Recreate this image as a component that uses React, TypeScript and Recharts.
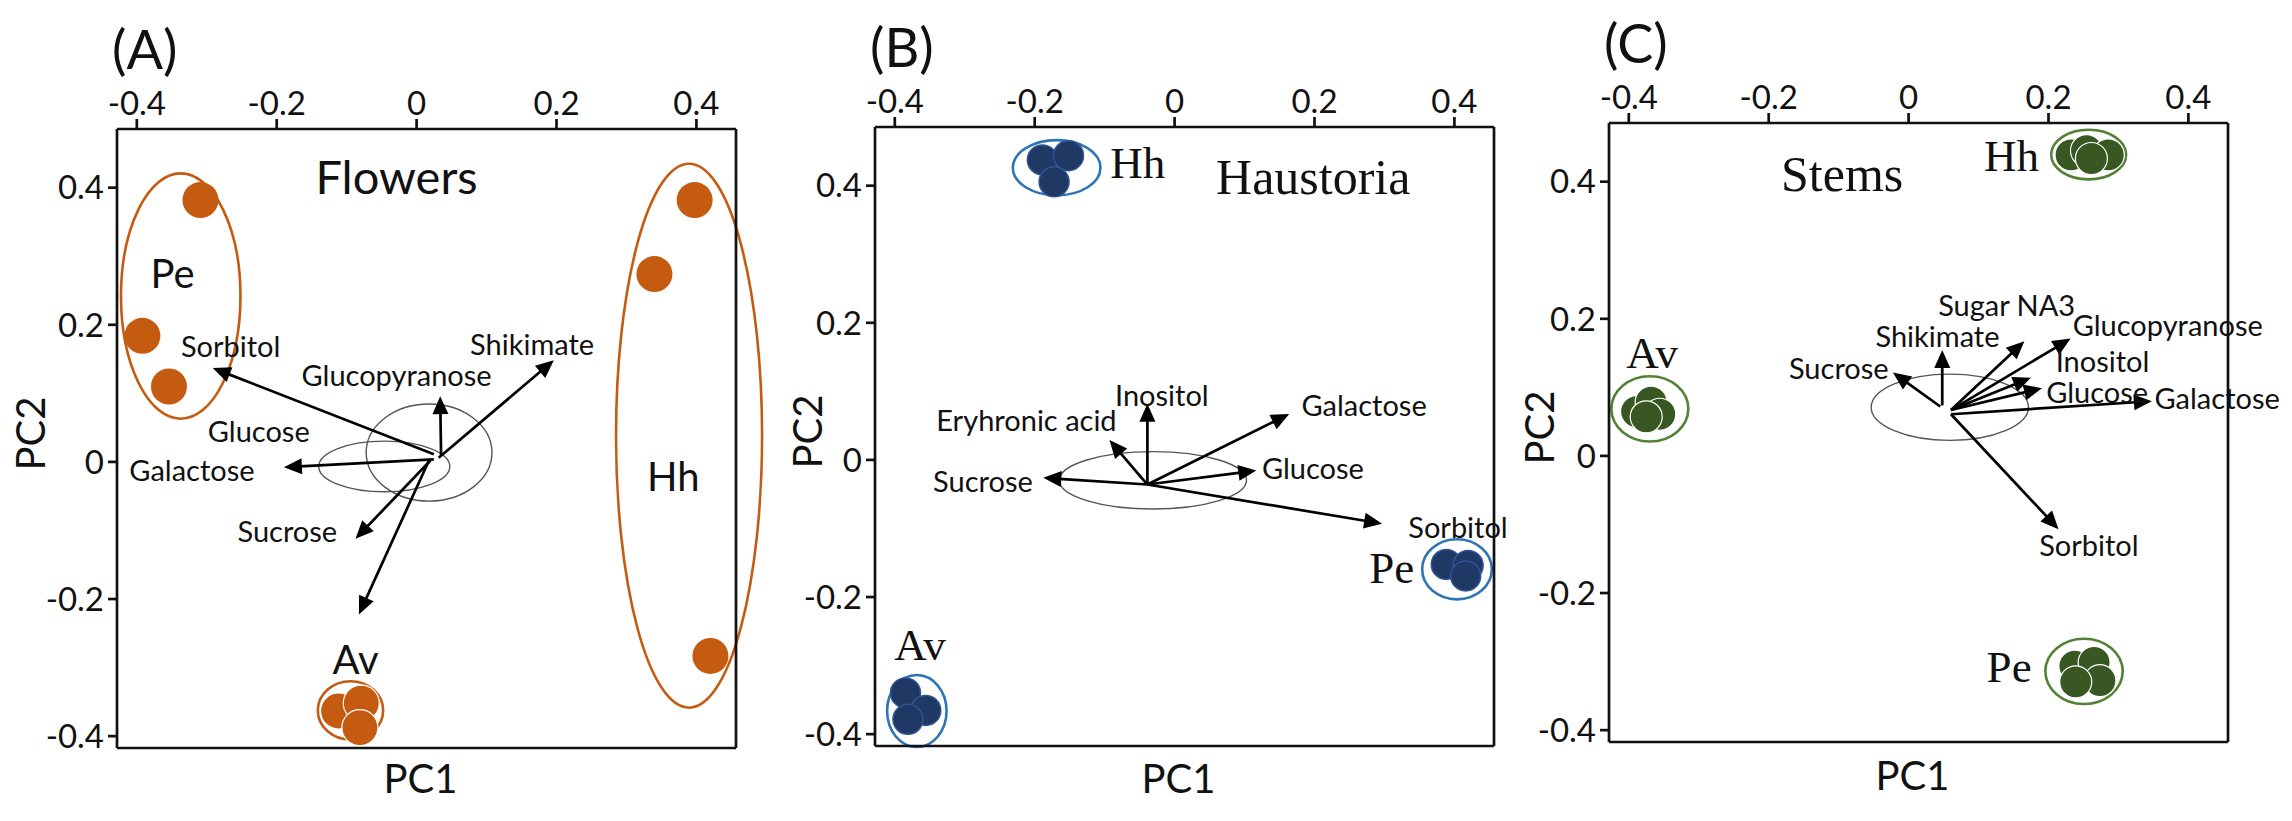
import React from 'react';
import { ScatterChart, Scatter, XAxis, YAxis, ReferenceArea, ReferenceLine } from 'recharts';

// ---------- shared axes ----------
const X_DOMAIN: [number, number] = [-0.4283, 0.4566];
const Y_DOMAIN: [number, number] = [-0.4173, 0.4856];
const TICK_VALUES = [-0.4, -0.2, 0, 0.2, 0.4];
const TICK_LABELS = ['-0.4', '-0.2', '0', '0.2', '0.4'];
const PANEL_LETTERS = ['(A)', '(B)', '(C)'];
const PANEL_TITLES = ['Flowers', 'Haustoria', 'Stems'];

type Pt = { x: number; y: number };
type Lbl = { x: number; y: number; text: string };
type Ell = { cx: number; cy: number; rx: number; ry: number };
type Arr = { x0: number; y0: number; x1: number; y1: number };

// ---------- Panel A: Flowers ----------
const flowersPe: Pt[] = [{ x: -0.309, y: 0.382 }, { x: -0.392, y: 0.184 }, { x: -0.354, y: 0.11 }];
const flowersHh: Pt[] = [{ x: 0.3975, y: 0.382 }, { x: 0.34, y: 0.274 }, { x: 0.42, y: -0.283 }];
const flowersAv: Pt[] = [{ x: -0.1116, y: -0.3633 }, { x: -0.0791, y: -0.3519 }, { x: -0.0811, y: -0.3876 }];
const flowersGroupEllipses: Ell[] = [
  { cx: -0.3372, cy: 0.2419, rx: 0.0854, ry: 0.1789 },
  { cx: 0.3895, cy: 0.0382, rx: 0.1044, ry: 0.3967 },
  { cx: -0.0945, cy: -0.3625, rx: 0.0467, ry: 0.0426 },
];
const flowersCenterEllipses: Ell[] = [
  { cx: 0.0178, cy: 0.0136, rx: 0.0899, ry: 0.0708 },
  { cx: -0.0462, cy: -0.0066, rx: 0.0937, ry: 0.0369 },
];
const flowersArrows: Arr[] = [
  { x0: 0.0246, y0: 0.0112, x1: -0.2914, y1: 0.1369 },
  { x0: 0.0316, y0: 0.006, x1: 0.1962, y1: 0.1483 },
  { x0: 0.035, y0: 0.0098, x1: 0.0337, y1: 0.0958 },
  { x0: 0.0246, y0: 0.0037, x1: -0.1897, y1: -0.0078 },
  { x0: 0.0198, y0: 0.0021, x1: -0.0873, y1: -0.1121 },
  { x0: 0.0177, y0: 0.0021, x1: -0.0825, y1: -0.2224 },
];
const flowersVarLabels: Lbl[] = [
  { x: -0.2658, y: 0.1696, text: 'Sorbitol' },
  { x: 0.1651, y: 0.1734, text: 'Shikimate' },
  { x: -0.0286, y: 0.1277, text: 'Glucopyranose' },
  { x: -0.2257, y: 0.0463, text: 'Glucose' },
  { x: -0.3211, y: -0.0107, text: 'Galactose' },
  { x: -0.1848, y: -0.1005, text: 'Sucrose' },
];
const flowersGroupLabels: Lbl[] = [
  { x: -0.3488, y: 0.2762, text: 'Pe' },
  { x: 0.367, y: -0.0207, text: 'Hh' },
  { x: -0.0873, y: -0.2873, text: 'Av' },
];
const flowersTitle: Lbl[] = [{ x: -0.0286, y: 0.4169, text: PANEL_TITLES[0] }];

// ---------- Panel B: Haustoria ----------
const haustHh: Pt[] = [{ x: -0.189, y: 0.4376 }, { x: -0.1517, y: 0.4437 }, { x: -0.1723, y: 0.4056 }];
const haustPe: Pt[] = [{ x: 0.3884, y: -0.1525 }, { x: 0.4196, y: -0.154 }, { x: 0.4161, y: -0.1692 }];
const haustAv: Pt[] = [{ x: -0.3847, y: -0.3399 }, { x: -0.3557, y: -0.3655 }, { x: -0.3812, y: -0.3784 }];
const haustGroupEllipses: Ell[] = [
  { cx: -0.1686, cy: 0.4262, rx: 0.0626, ry: 0.0403 },
  { cx: 0.4037, cy: -0.1596, rx: 0.0498, ry: 0.0438 },
  { cx: -0.3685, cy: -0.3663, rx: 0.0425, ry: 0.0525 },
];
const haustCenterEllipses: Ell[] = [{ cx: -0.031, cy: -0.0298, rx: 0.1338, ry: 0.0419 }];
const haustArrows: Arr[] = [
  { x0: -0.0389, y0: -0.0359, x1: -0.0389, y1: 0.082 },
  { x0: -0.0389, y0: -0.0359, x1: -0.0931, y1: 0.0289 },
  { x0: -0.0389, y0: -0.0359, x1: 0.1638, y1: 0.0669 },
  { x0: -0.0389, y0: -0.0359, x1: 0.1168, y1: -0.0155 },
  { x0: -0.0389, y0: -0.0359, x1: -0.1877, y1: -0.026 },
  { x0: -0.0389, y0: -0.0359, x1: 0.2966, y1: -0.093 },
];
const haustVarLabels: Lbl[] = [
  { x: -0.0182, y: 0.0951, text: 'Inositol' },
  { x: -0.2118, y: 0.0592, text: 'Eryhronic acid' },
  { x: 0.2709, y: 0.0806, text: 'Galactose' },
  { x: 0.1977, y: -0.0116, text: 'Glucose' },
  { x: -0.274, y: -0.0306, text: 'Sucrose' },
  { x: 0.4051, y: -0.0969, text: 'Sorbitol' },
];
const haustGroupLabels: Lbl[] = [
  { x: -0.0528, y: 0.4336, text: 'Hh' },
  { x: 0.3105, y: -0.1578, text: 'Pe' },
  { x: -0.364, y: -0.2696, text: 'Av' },
];
const haustTitle: Lbl[] = [{ x: 0.1982, y: 0.4131, text: PANEL_TITLES[1] }];

// ---------- Panel C: Stems ----------
const stemsHh: Pt[] = [{ x: 0.2322, y: 0.4391 }, { x: 0.2543, y: 0.4452 }, { x: 0.2855, y: 0.4391 }, { x: 0.2613, y: 0.4338 }];
const stemsAv: Pt[] = [{ x: -0.3889, y: 0.0646 }, { x: -0.3681, y: 0.0783 }, { x: -0.3557, y: 0.0608 }, { x: -0.3751, y: 0.057 }];
const stemsPe: Pt[] = [{ x: 0.2376, y: -0.3065 }, { x: 0.2652, y: -0.3012 }, { x: 0.2735, y: -0.3278 }, { x: 0.2389, y: -0.3296 }];
const stemsGroupEllipses: Ell[] = [
  { cx: 0.2574, cy: 0.4395, rx: 0.0536, ry: 0.0362 },
  { cx: -0.3699, cy: 0.0687, rx: 0.055, ry: 0.0476 },
  { cx: 0.2508, cy: -0.3142, rx: 0.0553, ry: 0.0476 },
];
const stemsCenterEllipses: Ell[] = [{ cx: 0.0589, cy: 0.071, rx: 0.1124, ry: 0.0483 }];
const stemsArrows: Arr[] = [
  { x0: 0.0453, y0: 0.0721, x1: -0.0224, y1: 0.1216 },
  { x0: 0.0481, y0: 0.0737, x1: 0.0481, y1: 0.1544 },
  { x0: 0.0606, y0: 0.0669, x1: 0.1655, y1: 0.1673 },
  { x0: 0.0606, y0: 0.0669, x1: 0.2316, y1: 0.1711 },
  { x0: 0.0606, y0: 0.0669, x1: 0.1748, y1: 0.1141 },
  { x0: 0.0606, y0: 0.0669, x1: 0.1907, y1: 0.0988 },
  { x0: 0.0606, y0: 0.0608, x1: 0.3478, y1: 0.0798 },
  { x0: 0.0606, y0: 0.0608, x1: 0.2143, y1: -0.1068 },
];
const stemsVarLabels: Lbl[] = [
  { x: -0.0998, y: 0.1294, text: 'Sucrose' },
  { x: 0.0413, y: 0.1751, text: 'Shikimate' },
  { x: 0.1402, y: 0.2208, text: 'Sugar NA3' },
  { x: 0.3705, y: 0.1924, text: 'Glucopyranose' },
  { x: 0.2772, y: 0.139, text: 'Inositol' },
  { x: 0.2696, y: 0.0945, text: 'Glucose' },
  { x: 0.4411, y: 0.0858, text: 'Galactose' },
  { x: 0.2578, y: -0.1297, text: 'Sorbitol' },
];
const stemsGroupLabels: Lbl[] = [
  { x: 0.1471, y: 0.4374, text: 'Hh' },
  { x: -0.3666, y: 0.1498, text: 'Av' },
  { x: 0.1437, y: -0.3084, text: 'Pe' },
];
const stemsTitle: Lbl[] = [{ x: -0.095, y: 0.4108, text: PANEL_TITLES[2] }];

// ---------- rendering helpers ----------
const SANS = 'Lato, "Open Sans", sans-serif';
const SERIF = '"Liberation Serif", "DejaVu Serif", serif';
const INK = '#111';

const fmtTick = (v: number) => {
  const i = TICK_VALUES.findIndex((t) => Math.abs(t - v) < 1e-9);
  return i >= 0 ? TICK_LABELS[i] : String(v);
};

const dotShape = (fill: string, stroke: string, sw: number, r: number) => (p: any) =>
  p.cx == null ? <g /> : <circle cx={p.cx} cy={p.cy} r={r} fill={fill} stroke={stroke} strokeWidth={sw} />;

const textShape = (family: string, size: number) => (p: any) => {
  const t = (p.payload && p.payload.text) || p.text;
  if (p.cx == null) return <g />;
  return (
    <text x={p.cx} y={p.cy} textAnchor="middle" dominantBaseline="central" fontFamily={family} fontSize={size} fill={INK}>
      {t}
    </text>
  );
};

const ellipseShape = (stroke: string, sw: number) => (p: any) => {
  const w = Math.abs(p.width);
  const h = Math.abs(p.height);
  const x = Math.min(p.x, p.x + p.width);
  const y = Math.min(p.y, p.y + p.height);
  return <ellipse cx={x + w / 2} cy={y + h / 2} rx={w / 2} ry={h / 2} fill="none" stroke={stroke} strokeWidth={sw} />;
};

const arrowShape = (p: any) => {
  const { x1, y1, x2, y2 } = p;
  const dx = x2 - x1;
  const dy = y2 - y1;
  const len = Math.hypot(dx, dy) || 1;
  const ux = dx / len;
  const uy = dy / len;
  const hl = 18;
  const hw = 8;
  const bx = x2 - ux * hl;
  const by = y2 - uy * hl;
  return (
    <g>
      <line x1={x1} y1={y1} x2={bx + ux * 2} y2={by + uy * 2} stroke="#000" strokeWidth={2.7} />
      <polygon points={`${x2},${y2} ${bx - uy * hw},${by + ux * hw} ${bx + uy * hw},${by - ux * hw}`} fill="#000" />
    </g>
  );
};

const AXIS_TITLE_SIZE = 40;

const YTitle = (props: any) => {
  const vb = props.viewBox;
  if (!vb) return null;
  const cx = vb.x + vb.width - props.dist;
  const cy = vb.y + vb.height / 2 - 5;
  return (
    <text x={cx} y={cy} transform={`rotate(-90 ${cx} ${cy})`} textAnchor="middle" dominantBaseline="central" fontFamily={SANS} fontSize={AXIS_TITLE_SIZE} fill={INK}>
      PC2
    </text>
  );
};

const XTitle = (props: any) => {
  const vb = props.viewBox;
  if (!vb) return null;
  const cx = vb.x + vb.width / 2 - 6;
  const cy = vb.y + props.dist;
  return (
    <text x={cx} y={cy} textAnchor="middle" dominantBaseline="central" fontFamily={SANS} fontSize={AXIS_TITLE_SIZE} fill={INK}>
      PC1
    </text>
  );
};

type PointSet = { data: Pt[]; fill: string; stroke: string; sw: number; r: number };

type PanelProps = {
  left: number;
  top: number;
  width: number;
  letter: string;
  pointSets: PointSet[];
  groupEllipses: Ell[];
  groupStroke: string;
  centerEllipses: Ell[];
  arrows: Arr[];
  varLabels: Lbl[];
  groupLabels: Lbl[];
  groupFont: string;
  groupSize: number;
  title: Lbl[];
  titleFont: string;
  titleSize: number;
  pc2Dist: number;
  pc1Dist: number;
};

const PLOT_LEFT = 117;
const PLOT_TOP = 129;
const PLOT_SIZE = 619;
const Y_AXIS_W = 100;
const X_AXIS_H = 60;
const CHART_H = 821;

function Panel(p: PanelProps) {
  const margin = {
    top: PLOT_TOP - X_AXIS_H,
    left: PLOT_LEFT - Y_AXIS_W,
    right: p.width - PLOT_LEFT - PLOT_SIZE,
    bottom: CHART_H - PLOT_TOP - PLOT_SIZE - X_AXIS_H,
  };
  const axisLine = { stroke: INK, strokeWidth: 2.7 };
  const tickStyle = { fontSize: 33, fill: INK, fontFamily: SANS };
  return (
    <div style={{ position: 'absolute', left: p.left, top: p.top, width: p.width, height: CHART_H }}>
      <ScatterChart width={p.width} height={CHART_H} margin={margin}>
        <XAxis
          type="number"
          dataKey="x"
          orientation="top"
          domain={X_DOMAIN}
          ticks={TICK_VALUES}
          interval={0}
          tickFormatter={fmtTick}
          height={X_AXIS_H}
          axisLine={axisLine}
          tickLine={axisLine}
          tickSize={10}
          tickMargin={4}
          tick={tickStyle}
        />
        <XAxis
          xAxisId="pc1"
          type="number"
          orientation="bottom"
          domain={X_DOMAIN}
          height={X_AXIS_H}
          tick={false}
          tickLine={false}
          axisLine={axisLine}
          label={<XTitle dist={p.pc1Dist} />}
        />
        <YAxis
          type="number"
          dataKey="y"
          domain={Y_DOMAIN}
          ticks={TICK_VALUES}
          interval={0}
          tickFormatter={fmtTick}
          width={Y_AXIS_W}
          axisLine={axisLine}
          tickLine={axisLine}
          tickSize={9}
          tickMargin={4}
          tick={tickStyle}
          label={<YTitle dist={p.pc2Dist} />}
        />
        <ReferenceLine
          segment={[{ x: X_DOMAIN[1], y: Y_DOMAIN[0] }, { x: X_DOMAIN[1], y: Y_DOMAIN[1] }]}
          stroke={INK}
          strokeWidth={2.7}
          ifOverflow="visible"
        />
        {p.centerEllipses.map((e, i) => (
          <ReferenceArea
            key={'ce' + i}
            x1={e.cx - e.rx}
            x2={e.cx + e.rx}
            y1={e.cy - e.ry}
            y2={e.cy + e.ry}
            ifOverflow="visible"
            shape={ellipseShape('#555', 1.4)}
          />
        ))}
        {p.groupEllipses.map((e, i) => (
          <ReferenceArea
            key={'ge' + i}
            x1={e.cx - e.rx}
            x2={e.cx + e.rx}
            y1={e.cy - e.ry}
            y2={e.cy + e.ry}
            ifOverflow="visible"
            shape={ellipseShape(p.groupStroke, 2.6)}
          />
        ))}
        {p.arrows.map((a, i) => (
          <ReferenceLine
            key={'ar' + i}
            segment={[{ x: a.x0, y: a.y0 }, { x: a.x1, y: a.y1 }]}
            ifOverflow="visible"
            shape={arrowShape}
          />
        ))}
        {p.pointSets.map((s, i) => (
          <Scatter
            key={'ps' + i}
            data={s.data}
            isAnimationActive={false}
            shape={dotShape(s.fill, s.stroke, s.sw, s.r)}
          />
        ))}
        <Scatter data={p.varLabels} isAnimationActive={false} shape={textShape(SANS, 29)} />
        <Scatter data={p.groupLabels} isAnimationActive={false} shape={textShape(p.groupFont, p.groupSize)} />
        <Scatter data={p.title} isAnimationActive={false} shape={textShape(p.titleFont, p.titleSize)} />
      </ScatterChart>
      <div
        style={{
          position: 'absolute',
          left: PLOT_LEFT - 5,
          top: 20,
          fontFamily: SANS,
          fontSize: 54,
          lineHeight: '58px',
          color: INK,
        }}
      >
        {p.letter}
      </div>
    </div>
  );
}

const ORANGE = '#C55A11';
const NAVY = '#1F3864';
const BLUE = '#2E75B6';
const GREEN = '#385723';
const GREEN_RING = '#538135';

export default function App() {
  return (
    <div style={{ position: 'absolute', left: 0, top: 0, width: 2292, height: 821, background: '#fff', overflow: 'hidden' }}>
      <Panel
        left={0}
        top={0}
        width={800}
        letter={PANEL_LETTERS[0]}
        pointSets={[
          { data: flowersPe, fill: ORANGE, stroke: 'none', sw: 0, r: 18 },
          { data: flowersHh, fill: ORANGE, stroke: 'none', sw: 0, r: 18 },
          { data: flowersAv, fill: ORANGE, stroke: '#fff', sw: 1.2, r: 18 },
        ]}
        groupEllipses={flowersGroupEllipses}
        groupStroke={ORANGE}
        centerEllipses={flowersCenterEllipses}
        arrows={flowersArrows}
        varLabels={flowersVarLabels}
        groupLabels={flowersGroupLabels}
        groupFont={SANS}
        groupSize={40}
        title={flowersTitle}
        titleFont={SANS}
        titleSize={47}
        pc2Dist={87}
        pc1Dist={30}
      />
      <Panel
        left={758}
        top={-2}
        width={760}
        letter={PANEL_LETTERS[1]}
        pointSets={[
          { data: haustHh, fill: NAVY, stroke: '#2F5597', sw: 1.5, r: 15 },
          { data: haustPe, fill: NAVY, stroke: '#2F5597', sw: 1.5, r: 15 },
          { data: haustAv, fill: NAVY, stroke: '#2F5597', sw: 1.5, r: 15 },
        ]}
        groupEllipses={haustGroupEllipses}
        groupStroke={BLUE}
        centerEllipses={haustCenterEllipses}
        arrows={haustArrows}
        varLabels={haustVarLabels}
        groupLabels={haustGroupLabels}
        groupFont={SERIF}
        groupSize={45}
        title={haustTitle}
        titleFont={SERIF}
        titleSize={50}
        pc2Dist={68}
        pc1Dist={32}
      />
      <Panel
        left={1492}
        top={-6}
        width={800}
        letter={PANEL_LETTERS[2]}
        pointSets={[
          { data: stemsHh, fill: GREEN, stroke: '#fff', sw: 1.2, r: 16 },
          { data: stemsAv, fill: GREEN, stroke: '#fff', sw: 1.2, r: 16 },
          { data: stemsPe, fill: GREEN, stroke: '#fff', sw: 1.2, r: 16 },
        ]}
        groupEllipses={stemsGroupEllipses}
        groupStroke={GREEN_RING}
        centerEllipses={stemsCenterEllipses}
        arrows={stemsArrows}
        varLabels={stemsVarLabels}
        groupLabels={stemsGroupLabels}
        groupFont={SERIF}
        groupSize={45}
        title={stemsTitle}
        titleFont={SERIF}
        titleSize={50}
        pc2Dist={70}
        pc1Dist={33}
      />
    </div>
  );
}
